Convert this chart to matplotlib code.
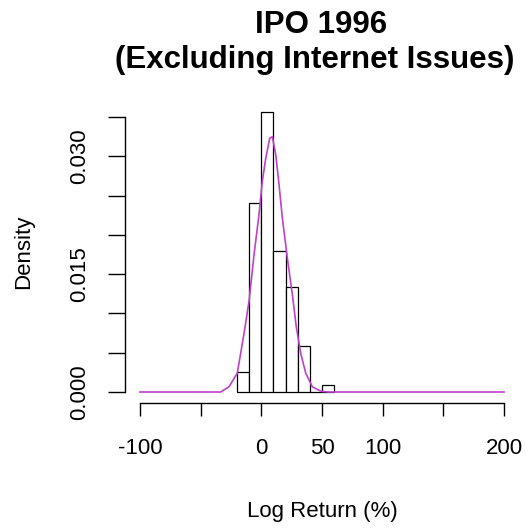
import matplotlib.pyplot as plt
import numpy as np

plt.rcParams['font.family'] = ['Liberation Sans', 'DejaVu Sans']

# histogram bins (log return %) and density heights
bin_edges = [-20, -10, 0, 10, 20, 30, 40, 50, 60]
densities = [0.0026, 0.0240, 0.0356, 0.0180, 0.0134, 0.0058, 0.0, 0.0009]

# density curve points
curve_x = [-100, -33.5, -26.6, -19.8, -14.3, -10.1, -6.0, -1.9, 0.8, 3.6, 6.9, 9.1,
           11.9, 14.6, 17.3, 21.4, 25.5, 28.8, 32.5, 36.6, 42.0, 49.0, 55.0, 200]
curve_y = [0.0, 0.0, 0.00067, 0.0024, 0.0074, 0.0116, 0.0175, 0.0226, 0.0268, 0.0297,
           0.0323, 0.0325, 0.0302, 0.0264, 0.0222, 0.0171, 0.0125, 0.0083, 0.0049,
           0.0024, 0.00067, 0.0001, 0.0, 0.0]

x_ticks = [-100, -50, 0, 50, 100, 150, 200]
x_labels = ['-100', '', '0', '50', '100', '', '200']
y_ticks = [0.0, 0.005, 0.010, 0.015, 0.020, 0.025, 0.030, 0.035]
y_labels = ['0.000', '', '', '0.015', '', '', '0.030', '']

W, H = 526, 531
fig = plt.figure(figsize=(W / 100, H / 100), dpi=100)
ax = fig.add_axes([125.4 / W, 1 - 403 / H, (518.6 - 125.4) / W, (403 - 100.6) / H])

widths = np.diff(bin_edges)
ax.bar(bin_edges[:-1], densities, width=widths, align='edge',
       color='white', edgecolor='black', linewidth=0.9)
ax.plot(curve_x, curve_y, color='#C040CC', linewidth=1.2)

ax.set_xlim(-112, 212)
ax.set_ylim(-0.0014, 0.0371)

for s in ['top', 'right']:
    ax.spines[s].set_visible(False)
ax.spines['bottom'].set_bounds(-100, 200)
ax.spines['left'].set_bounds(0, 0.035)
for s in ['bottom', 'left']:
    ax.spines[s].set_linewidth(1.0)

ax.set_xticks(x_ticks)
ax.set_xticklabels(x_labels)
ax.set_yticks(y_ticks)
ax.set_yticklabels(y_labels, rotation=90, va='center')
ax.tick_params(axis='x', length=9, width=1.0, pad=16, labelsize=16)
ax.tick_params(axis='y', length=12.5, width=1.0, pad=13, labelsize=16)

fig.text(321 / W, 1 - 25 / H, 'IPO 1996', ha='center', va='center',
         fontsize=22.5, fontweight='bold')
fig.text(315 / W, 1 - 60 / H, '(Excluding Internet Issues)', ha='center', va='center',
         fontsize=22.5, fontweight='bold')
fig.text(322 / W, 1 - 511 / H, 'Log Return (%)', ha='center', va='center', fontsize=16)
fig.text(24 / W, 1 - 252 / H, 'Density', ha='center', va='center', fontsize=16,
         rotation=90)

fig.savefig('out.png', dpi=100)
